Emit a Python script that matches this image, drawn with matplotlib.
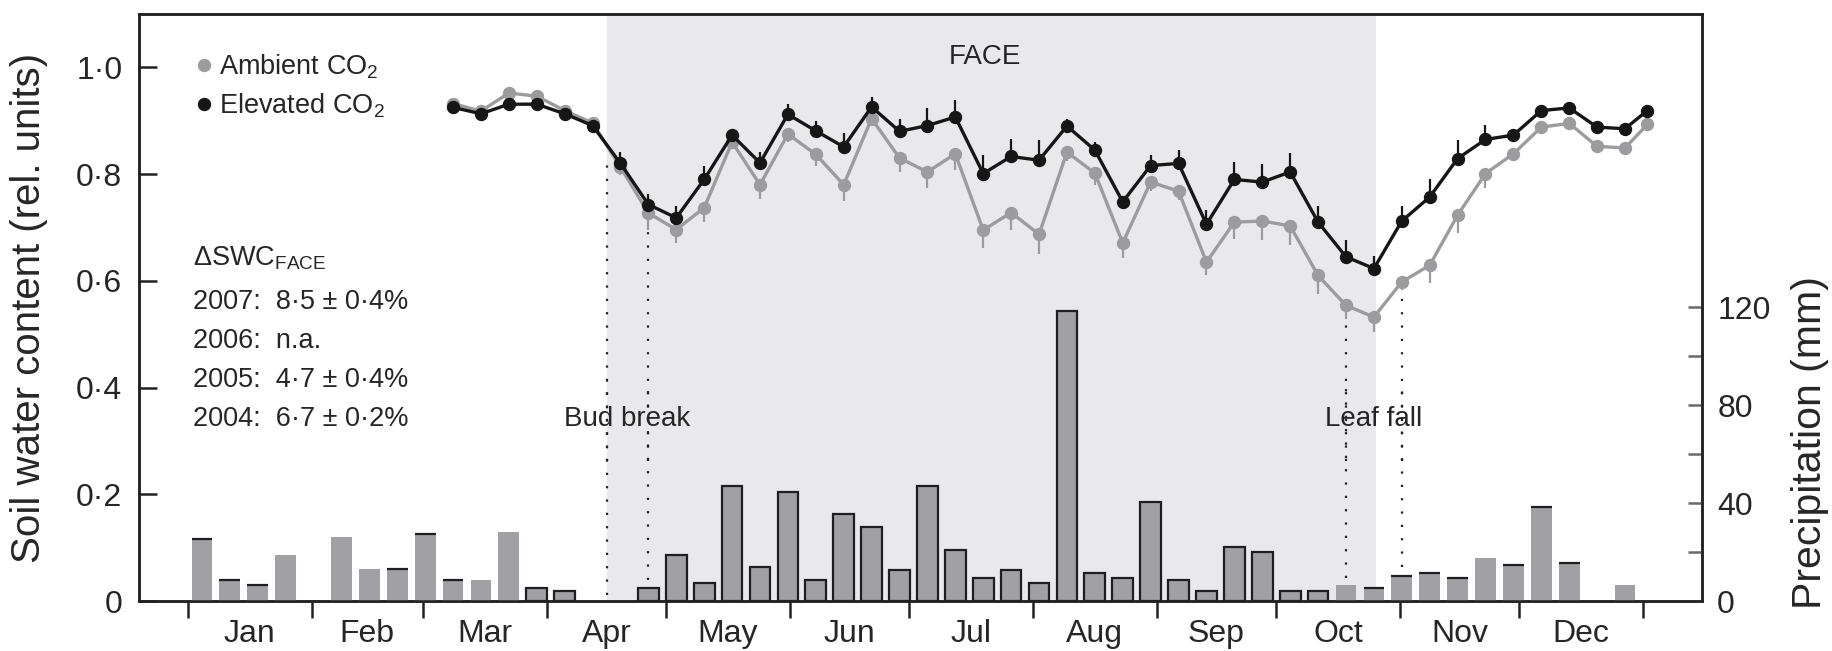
import numpy as np
import matplotlib
matplotlib.use("Agg")
import matplotlib.pyplot as plt
from matplotlib.lines import Line2D
from matplotlib.ticker import FixedLocator, NullFormatter

plt.rcParams['font.family'] = ['Liberation Sans', 'DejaVu Sans']
plt.rcParams['mathtext.fontset'] = 'custom'
plt.rcParams['mathtext.rm'] = 'Liberation Sans'
plt.rcParams['mathtext.default'] = 'regular'

TXT = "#262626"
AMB = "#9c9c9f"
ELE = "#161616"
BAR = "#a1a1a5"

# weekly precipitation (mm), week 0 = first week of January
precip = [25.2, 8.6, 6.4, 18.8, 0, 26.2, 12.9, 12.9, 27.2, 8.6,
          8.6, 28.3, 5.2, 4.2, 0, 0, 5.2, 18.7, 7.3, 46.9,
          13.7, 44.6, 8.4, 35.5, 30.1, 12.7, 46.9, 20.8, 9.5, 12.7,
          7.2, 118.4, 11.6, 9.5, 40.5, 8.6, 4.1, 21.9, 19.9, 4.1,
          4.1, 6.4, 5.4, 10.4, 11.5, 9.4, 17.7, 14.6, 38.5, 15.6,
          0, 6.4]
outlined_weeks = list(range(12, 41))
top_line_weeks = [0, 1, 2, 7, 8, 9, 42, 43, 44, 45, 47, 48, 49]

# soil water content readings (week index of reading)
swc_weeks = list(range(9, 52)) + [51.8]
elevated = [0.925, 0.913, 0.931, 0.931, 0.913, 0.891, 0.820, 0.743, 0.718, 0.790,
            0.873, 0.821, 0.912, 0.881, 0.851, 0.926, 0.880, 0.891, 0.907, 0.801,
            0.833, 0.826, 0.890, 0.845, 0.748, 0.816, 0.820, 0.706, 0.790, 0.785,
            0.804, 0.710, 0.645, 0.623, 0.712, 0.757, 0.829, 0.865, 0.873, 0.919,
            0.924, 0.888, 0.885, 0.919]
elevated_err = [0.004, 0.004, 0.004, 0.004, 0.004, 0.004, 0.022, 0.020, 0.023, 0.025,
                0.006, 0.020, 0.019, 0.019, 0.026, 0.019, 0.024, 0.033, 0.032, 0.034,
                0.033, 0.037, 0.014, 0.016, 0.006, 0.019, 0.025, 0.026, 0.033, 0.034,
                0.036, 0.031, 0.031, 0.023, 0.029, 0.034, 0.034, 0.027, 0.009, 0.005,
                0.005, 0.005, 0.005, 0.004]
ambient = [0.932, 0.918, 0.952, 0.946, 0.919, 0.896, 0.813, 0.727, 0.696, 0.737,
           0.860, 0.780, 0.875, 0.837, 0.780, 0.904, 0.830, 0.804, 0.838, 0.695,
           0.728, 0.687, 0.841, 0.802, 0.671, 0.785, 0.768, 0.635, 0.710, 0.712,
           0.703, 0.610, 0.554, 0.532, 0.598, 0.629, 0.723, 0.801, 0.838, 0.888,
           0.895, 0.852, 0.849, 0.893]
ambient_err = [0.004, 0.004, 0.004, 0.004, 0.004, 0.004, 0.015, 0.031, 0.025, 0.026,
               0.012, 0.026, 0.014, 0.021, 0.031, 0.012, 0.026, 0.031, 0.031, 0.034,
               0.033, 0.037, 0.016, 0.023, 0.029, 0.016, 0.016, 0.025, 0.031, 0.036,
               0.036, 0.034, 0.025, 0.028, 0.016, 0.034, 0.034, 0.028, 0.009, 0.004,
               0.004, 0.004, 0.004, 0.004]

months = ["Jan", "Feb", "Mar", "Apr", "May", "Jun", "Jul", "Aug", "Sep", "Oct", "Nov", "Dec"]
month_days = [31, 28, 31, 30, 31, 30, 31, 31, 30, 31, 30, 31]

face_period = (105, 298)          # day of year
bud_break = [105, 115.5]
leaf_fall = [290.5, 304.5]
event_tops = [0.83, 0.695, 0.525, 0.575]
event_bottoms = [0.012, 0.04, 0.043, 0.064]

swc_summary = ["2007:  8·5 ± 0·4%", "2006:  n.a.", "2005:  4·7 ± 0·4%", "2004:  6·7 ± 0·2%"]


def week_to_day(w):
    return np.asarray(w, dtype=float) * 7 + 3.5


fig = plt.figure(figsize=(18.33, 6.51), dpi=100)
ax = fig.add_axes([0.0758, 0.0768, 0.8527, 0.9017])
ax2 = ax.twinx()

ax.set_xlim(-12.3, 379.8)
ax.set_ylim(0, 1.1)
ax2.set_ylim(0, 239.6)

ax.axvspan(*face_period, color="#e9e9ec", lw=0, zorder=0)

# precipitation bars
bar_days = week_to_day(range(len(precip)))
for i, (d, p) in enumerate(zip(bar_days, precip)):
    if p <= 0:
        continue
    if i in outlined_weeks:
        ax2.bar(d, p, width=5.2, color=BAR, edgecolor="#1e1e1e", linewidth=1.6, zorder=2)
    else:
        ax2.bar(d, p, width=5.2, color=BAR, linewidth=0, zorder=2)
        if i in top_line_weeks:
            ax2.hlines(p, d - 2.6, d + 2.6, color="#1e1e1e", lw=1.6, zorder=3)

# event markers
for d, top, bot in zip(bud_break + leaf_fall, event_tops, event_bottoms):
    ax.vlines(d, 0.262, top, color="#222222", lw=1.6, linestyles=(0, (1, 5)), zorder=3)
    ax.vlines(d, bot, 0.412, color="#222222", lw=1.6, linestyles=(0, (1, 5)), zorder=3)
ax.text(np.mean(bud_break), 0.341, "Bud break", ha="center", va="center", fontsize=20, color=TXT)
ax.text(np.mean(leaf_fall), 0.341, "Leaf fall", ha="center", va="center", fontsize=20, color=TXT)
ax.text(np.mean(face_period) - 1.5, 1.019, "FACE", ha="center", va="center", fontsize=20, color=TXT)

# soil water content series
sx = week_to_day(swc_weeks)
amb = np.array(ambient)
ele = np.array(elevated)
ax.vlines(sx, amb - np.array(ambient_err), amb, color=AMB, lw=1.6, zorder=4)
ax.plot(sx, amb, color=AMB, lw=2.4, marker="o", ms=8.6, zorder=5)
ax.vlines(sx, ele, ele + np.array(elevated_err), color=ELE, lw=1.6, zorder=6)
ax.plot(sx, ele, color=ELE, lw=2.4, marker="o", ms=8.6, zorder=7)

handles = [Line2D([], [], ls="none", marker="o", ms=8.6, color=AMB),
           Line2D([], [], ls="none", marker="o", ms=8.6, color=ELE)]
leg = ax.legend(handles, ["Ambient CO$_2$", "Elevated CO$_2$"], loc="upper left",
                bbox_to_anchor=(0.026, 0.953), frameon=False, fontsize=19.5,
                handletextpad=0.05, handlelength=1.0, labelspacing=0.4, borderaxespad=0)
for t in leg.get_texts():
    t.set_color(TXT)

ax.text(1.3, 0.642, r"ΔSWC$_{FACE}$", ha="left", va="center", fontsize=19.5, color=TXT)
for k, line in enumerate(swc_summary):
    ax.text(1.3, 0.56 - k * 0.073, line, ha="left", va="center", fontsize=19.5, color=TXT)

# axes styling
bounds = np.concatenate([[0], np.cumsum(month_days)])
mids = (bounds[:-1] + bounds[1:]) / 2
ax.xaxis.set_major_locator(FixedLocator(bounds))
ax.xaxis.set_major_formatter(NullFormatter())
ax.xaxis.set_minor_locator(FixedLocator(mids))
ax.set_xticklabels(months, minor=True)
ax.tick_params(axis="x", which="major", direction="out", length=12, width=1.8, color="#222222")
ax.tick_params(axis="x", which="minor", length=0, pad=13, labelsize=23, labelcolor=TXT)

ax.set_yticks([0, 0.2, 0.4, 0.6, 0.8, 1.0])
ax.set_yticklabels(["0", "0·2", "0·4", "0·6", "0·8", "1·0"])
ax.tick_params(axis="y", direction="in", length=13, width=1.8, color="#222222",
               pad=12, labelsize=23, labelcolor=TXT)

ax2.set_yticks([0, 40, 80, 120])
ax2.set_yticks([20, 60, 100], minor=True)
ax2.tick_params(axis="y", which="both", direction="in", length=10, width=1.8, color="#6a6a6a",
                pad=11, labelsize=23, labelcolor=TXT)

for a in (ax, ax2):
    for s in a.spines.values():
        s.set_linewidth(1.8)
        s.set_color("#222222")

ax.set_ylabel("Soil water content (rel. units)", fontsize=29, color=TXT)
ax.yaxis.set_label_coords(-0.058, 0.5)
ax2.set_ylabel("Precipitation (mm)", fontsize=29.5, color=TXT)
ax2.yaxis.set_label_coords(1.057, 0.27)

fig.savefig("out.png", dpi=100)
